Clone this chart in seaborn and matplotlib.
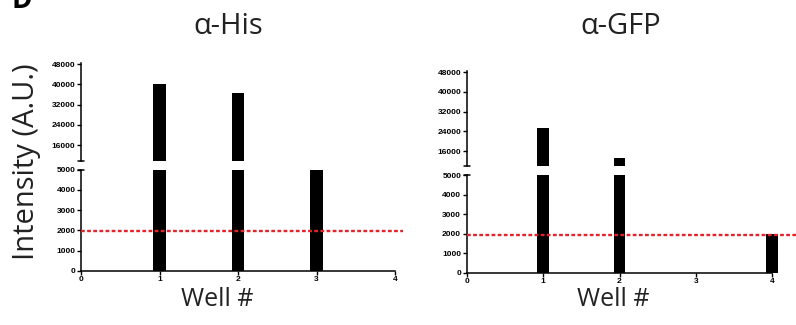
import matplotlib
matplotlib.use("Agg")
import matplotlib.pyplot as plt
import seaborn as sns

# Well numbers and measured intensities for each antibody
wells = [1, 2, 3, 4]
his_intensity = [40000, 36500, 5000, 0]
gfp_intensity = [25500, 13300, 0, 2000]
threshold = 1950

upper_ticks = [16000, 24000, 32000, 40000, 48000]
lower_ticks = [0, 1000, 2000, 3000, 4000, 5000]
x_ticks = [0, 1, 2, 3, 4]
panel_titles = ["α-His", "α-GFP"]

sns.set_style("ticks")
plt.rcParams["font.family"] = ["Open Sans", "DejaVu Sans"]

W, H = 796, 325
fig = plt.figure(figsize=(W / 100, H / 100), dpi=100)


def px_axes(left, top, width, height):
    return fig.add_axes([left / W, 1 - (top + height) / H, width / W, height / H])


def style_axis(ax):
    ax.tick_params(axis="both", direction="out", length=3, width=1, pad=1,
                   colors="black", labelsize=6)
    for lbl in ax.get_xticklabels() + ax.get_yticklabels():
        lbl.set_fontfamily("Liberation Sans")
        lbl.set_fontweight("bold")
    ax.set_xlabel("")
    ax.set_ylabel("")


def draw_panel(values, x0, unit, xmax, up_top, up_bot, lo_top, lo_bot, cap_w):
    width_px = unit * xmax
    # upper segment of the broken axis
    ax_u = px_axes(x0, up_top, width_px, up_bot - up_top)
    sns.barplot(x=wells, y=values, native_scale=True, width=0.155,
                color="black", saturation=1, linewidth=0, ax=ax_u)
    ax_u.set_xlim(0, xmax)
    ax_u.set_ylim(10000, 48400)
    ax_u.set_yticks(upper_ticks)
    ax_u.set_xticks([])
    for s in ["top", "right", "bottom"]:
        ax_u.spines[s].set_visible(False)
    ax_u.spines["left"].set_linewidth(1.1)
    ax_u.spines["left"].set_color("black")
    style_axis(ax_u)
    ax_u.plot([-cap_w / width_px, cap_w / width_px], [0, 0], color="black",
              lw=1.1, transform=ax_u.transAxes, clip_on=False)

    # lower segment of the broken axis
    ax_l = px_axes(x0, lo_top, width_px, lo_bot - lo_top)
    sns.barplot(x=wells, y=values, native_scale=True, width=0.155,
                color="black", saturation=1, linewidth=0, ax=ax_l)
    ax_l.set_xlim(0, xmax)
    ax_l.set_ylim(0, 5000)
    ax_l.set_yticks(lower_ticks)
    ax_l.set_xticks(x_ticks)
    ax_l.set_xticklabels([str(t) for t in x_ticks])
    for s in ["top", "right"]:
        ax_l.spines[s].set_visible(False)
    for s in ["left", "bottom"]:
        ax_l.spines[s].set_linewidth(1.1)
        ax_l.spines[s].set_color("black")
    ax_l.spines["bottom"].set_bounds(0, 4)
    style_axis(ax_l)
    ax_l.plot([-cap_w / width_px, cap_w / width_px], [1, 1], color="black",
              lw=1.1, transform=ax_l.transAxes, clip_on=False)
    ax_l.axhline(threshold, color="#e3242b", lw=1.7, ls=(0, (1.6, 1.0)),
                 zorder=5, clip_on=False)
    return ax_u, ax_l


draw_panel(his_intensity, 81, 78.5, 4.1, 63, 160.5, 169.7, 270.7, 3)
draw_panel(gfp_intensity, 466.7, 76.4, 4.31, 71.3, 165.8, 175, 272.7, 3)

title_font = dict(size=21, color="#222222", ha="center", va="center")
fig.text(228 / W, 1 - 26 / H, panel_titles[0], **title_font)
fig.text(621 / W, 1 - 26 / H, panel_titles[1], **title_font)

label_font = dict(size=18, color="#222222", ha="center", va="center")
fig.text(217 / W, 1 - 300 / H, "Well #", **label_font)
fig.text(613 / W, 1 - 300 / H, "Well #", **label_font)
fig.text(27 / W, 1 - 162 / H, "Intensity (A.U.)", rotation=90,
         size=21, color="#222222", ha="center", va="center")
fig.text(12 / W, 1 - 8 / H, "D", size=20, weight="bold", color="black",
         ha="left", va="baseline")

fig.savefig("out.png", dpi=100)
